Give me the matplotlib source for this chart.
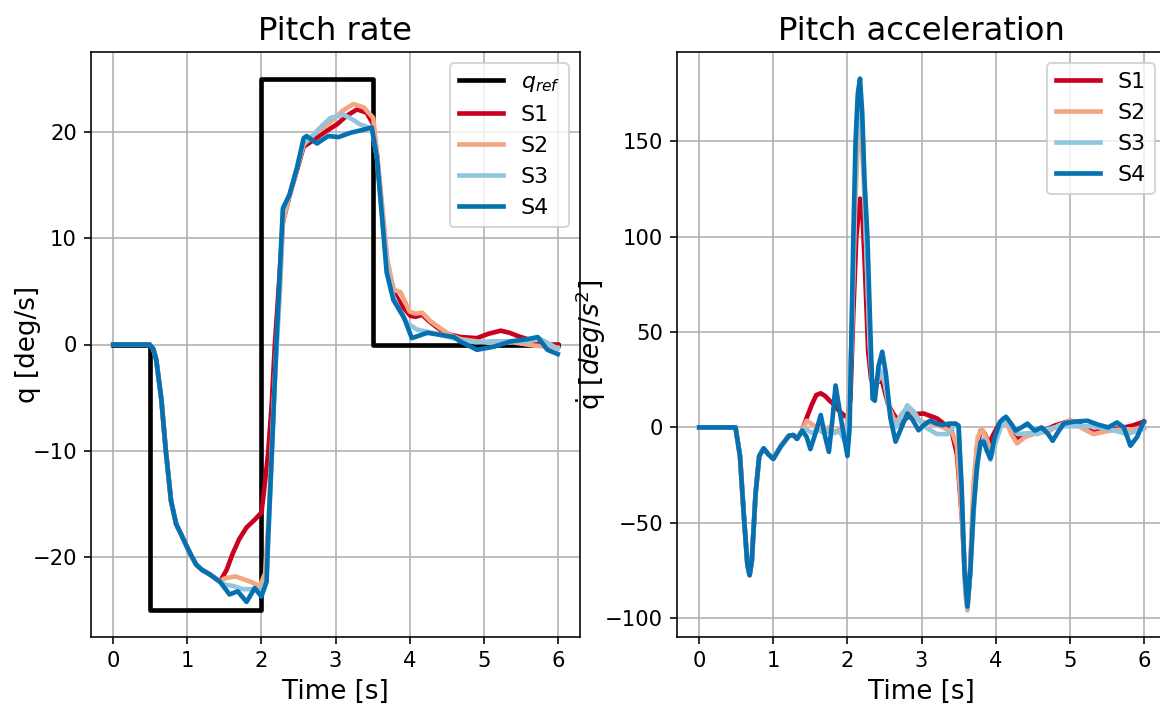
import matplotlib
matplotlib.use('Agg')
import matplotlib.pyplot as plt

# colours for the four runs (RdBu)
c1, c2, c3, c4 = '#ca0020', '#f4a582', '#92c5de', '#0571b0'

# reference pitch rate (step input)
t_ref = [0, 0.5, 2.0, 3.5, 6.0]
q_ref = [0, -25, 25, 0, 0]

# common beginning of all runs (pitch rate)
t_start = [0, 0.49, 0.54, 0.58, 0.65, 0.71, 0.78, 0.85, 0.92, 0.98, 1.05, 1.12, 1.20, 1.30, 1.44]
q_start = [0, 0, -0.4, -1.4, -5.2, -10, -14.7, -16.9, -17.9, -18.8, -19.8, -20.7, -21.2, -21.6, -22.3]

# pitch rate, S1
t_q1 = [1.53, 1.61, 1.70, 1.80, 1.92, 2.00, 2.02, 2.09, 2.14, 2.18, 2.24, 2.29, 2.38, 2.48,
        2.57, 2.70, 2.84, 3.02, 3.15, 3.29, 3.42, 3.51, 3.56, 3.63, 3.70, 3.79, 3.90, 4.01,
        4.08, 4.17, 4.26, 4.37, 4.50, 4.69, 4.91, 5.06, 5.23, 5.35, 5.46, 5.68, 5.86, 6.0]
q_1 = [-21.2, -19.7, -18.3, -17.2, -16.4, -15.8, -14.7, -10.3, -5.5, -0.2, 6.0, 11.5, 14.0, 16.4,
       18.6, 19.2, 19.9, 20.7, 21.5, 22.1, 21.8, 20.7, 17.8, 12.5, 7.5, 4.9, 3.6, 2.7,
       2.6, 2.8, 2.2, 1.6, 1.0, 0.7, 0.6, 1.0, 1.3, 1.1, 0.8, 0.3, 0.0, 0.0]

# pitch rate, S2
t_q2 = [1.50, 1.57, 1.65, 1.73, 1.85, 1.98, 2.05, 2.10, 2.15, 2.20, 2.25, 2.29, 2.38, 2.48,
        2.57, 2.70, 2.84, 2.98, 3.10, 3.24, 3.38, 3.51, 3.56, 3.63, 3.70, 3.78, 3.88, 4.00,
        4.08, 4.17, 4.28, 4.42, 4.55, 4.69, 4.90, 5.14, 5.40, 5.68, 5.85, 6.0]
q_2 = [-22.0, -21.9, -21.8, -22.0, -22.3, -22.7, -21.5, -16, -8, -0.5, 5, 11.5, 14.0, 16.6,
       18.8, 19.7, 20.4, 21.2, 22.0, 22.6, 22.3, 21.3, 18, 13, 8, 5.2, 4.9, 3.1,
       2.9, 3.0, 2.2, 1.5, 0.9, 0.5, 0.3, 0.1, 0.2, -0.1, -0.2, -0.3]

# pitch rate, S3
t_q3 = [1.52, 1.62, 1.75, 1.90, 2.00, 2.07, 2.12, 2.17, 2.22, 2.26, 2.29, 2.38, 2.48, 2.57,
        2.66, 2.78, 2.93, 3.11, 3.22, 3.33, 3.49, 3.56, 3.63, 3.70, 3.78, 3.88, 3.97, 4.10,
        4.24, 4.37, 4.69, 4.90, 5.14, 5.40, 5.59, 5.77, 5.90, 6.0]
q_3 = [-22.6, -22.7, -23.0, -23.0, -23.2, -22.0, -14, -5, 1.5, 7, 12.5, 14.1, 16.6, 19.0,
       19.4, 20.3, 21.3, 21.6, 21.2, 20.7, 20.3, 17.5, 12, 7, 4.5, 3.0, 2.0, 1.4,
       1.2, 1.0, 0.4, 0.2, 0.3, 0.3, 0.3, 0.5, 0.0, -0.4]

# pitch rate, S4
t_q4 = [1.57, 1.68, 1.80, 1.91, 2.00, 2.07, 2.09, 2.14, 2.20, 2.25, 2.29, 2.38, 2.48, 2.57,
        2.61, 2.75, 2.90, 3.04, 3.20, 3.38, 3.49, 3.56, 3.63, 3.69, 3.78, 3.92, 4.03, 4.24,
        4.42, 4.60, 4.68, 4.91, 5.14, 5.37, 5.59, 5.73, 5.86, 6.0]
q_4 = [-23.5, -23.2, -24.2, -22.9, -23.7, -22.3, -18.2, -10.3, -0.2, 7.0, 12.8, 14.1, 16.6, 19.4,
       19.6, 18.9, 19.6, 19.5, 19.9, 20.2, 20.4, 17.5, 11.8, 6.8, 4.2, 2.6, 0.6, 1.1,
       0.9, 0.7, 0.3, -0.5, -0.2, 0.3, 0.5, 0.7, -0.5, -0.9]

# common beginning of all runs (pitch acceleration)
t_a_start = [0, 0.49, 0.55, 0.60, 0.65, 0.68, 0.71, 0.76, 0.81, 0.87, 0.93, 1.00, 1.10, 1.21,
             1.27, 1.32, 1.39]
a_start = [0, 0, -15, -45, -72, -77.5, -70, -35, -15, -11, -14, -16.5, -10, -4.4,
           -4, -6, -1.7]

# pitch acceleration, S1
t_a1 = [1.45, 1.52, 1.58, 1.64, 1.70, 1.76, 1.82, 1.88, 1.95, 2.00, 2.04, 2.08, 2.12, 2.17,
        2.20, 2.24, 2.28, 2.32, 2.36, 2.42, 2.47, 2.55, 2.63, 2.72, 2.80, 2.90, 3.03, 3.21,
        3.40, 3.48, 3.55, 3.60, 3.62, 3.65, 3.70, 3.75, 3.80, 3.85, 3.91, 3.98, 4.05, 4.11,
        4.20, 4.29, 4.40, 4.60, 4.80, 5.01, 5.15, 5.32, 5.50, 5.68, 5.85, 6.0]
a_1 = [5, 12, 17, 17.9, 16.5, 14, 12, 9, 6.5, 5, 15, 60, 100, 120,
       115, 80, 40, 25, 24, 24, 24, 12, 6.5, 2, 5, 7, 7.3, 4.7,
       -1, -14.5, -50, -88, -93, -80, -40, -10, -1.7, -3, -8.4, -3, 2, 4.7,
       0, -6, -4, -2.5, 1, 3.5, 1, -2.5, -1.5, -0.5, 1, 3]

# pitch acceleration, S2
t_a2 = [1.45, 1.51, 1.58, 1.64, 1.69, 1.75, 1.80, 1.86, 1.92, 1.97, 2.02, 2.06, 2.10, 2.14,
        2.18, 2.22, 2.26, 2.30, 2.34, 2.38, 2.45, 2.50, 2.57, 2.65, 2.75, 2.82, 2.90, 3.00,
        3.15, 3.30, 3.42, 3.48, 3.55, 3.60, 3.62, 3.65, 3.70, 3.76, 3.82, 3.88, 3.94, 4.00,
        4.08, 4.14, 4.22, 4.29, 4.40, 4.55, 4.70, 4.85, 5.01, 5.15, 5.32, 5.50, 5.70, 5.85, 6.0]
a_2 = [3.5, 2, 0, -1, -1, 0, -2, -2, 0, -5, 10, 50, 110, 150,
       158, 130, 90, 45, 20, 22, 28, 24, 10, 2, 8, 10, 6, 3,
       2, 0, -3, -10, -50, -90, -96, -80, -30, -5, -1, -6, -14, -6,
       2, 3, -4, -8.4, -5, -3, -2.5, 1, 3.5, 0, -3.5, -2, -1, -1, 0]

# pitch acceleration, S3
t_a3 = [1.45, 1.52, 1.60, 1.68, 1.75, 1.82, 1.90, 1.97, 2.02, 2.06, 2.10, 2.14, 2.17, 2.21,
        2.25, 2.30, 2.34, 2.38, 2.44, 2.50, 2.57, 2.65, 2.73, 2.81, 2.90, 3.00, 3.10, 3.21,
        3.35, 3.46, 3.50, 3.55, 3.59, 3.62, 3.66, 3.72, 3.78, 3.84, 3.93, 4.00, 4.07, 4.14,
        4.22, 4.30, 4.45, 4.57, 4.70, 4.86, 5.10, 5.31, 5.55, 5.77, 5.90, 6.0]
a_3 = [-1, -3, -1, -3, -2, -3, -2, -8, 5, 50, 120, 165, 175, 150,
       100, 45, 18, 20, 30, 25, 8, 0, 6, 11.6, 8, 2, -1, -3.5,
       -3.5, 2, 0, -40, -85, -95, -75, -35, -10, -6, -17, -8, 0, 4,
       0, -3.5, -3, -3.5, -1, 0.6, 0.6, 0.6, -1, -3.5, -2, -0.6]

# pitch acceleration, S4
t_a4 = [1.45, 1.50, 1.57, 1.64, 1.70, 1.75, 1.80, 1.84, 1.92, 2.00, 2.03, 2.06, 2.08, 2.11,
        2.14, 2.17, 2.20, 2.23, 2.27, 2.31, 2.34, 2.37, 2.42, 2.47, 2.52, 2.58, 2.65, 2.73,
        2.81, 2.88, 2.96, 3.04, 3.12, 3.20, 3.28, 3.37, 3.46, 3.50, 3.54, 3.58, 3.62, 3.66,
        3.70, 3.75, 3.80, 3.84, 3.88, 3.93, 3.99, 4.06, 4.14, 4.21, 4.27, 4.35, 4.43, 4.48,
        4.53, 4.62, 4.70, 4.77, 4.85, 4.92, 5.05, 5.24, 5.38, 5.52, 5.64, 5.73, 5.82, 5.91, 6.0]
a_4 = [-5, -11.4, -3, 6.5, -5, -12.8, 5, 22, 3, -15, 0, 60, 100, 150,
       175, 183, 165, 130, 100, 50, 15, 14, 32, 39.7, 28, 5, -7.5, 0,
       7.3, 4, -1.5, 1.5, 3.6, 2, 1.2, 2, 2, 1, -30, -75, -94, -75,
       -44, -20, -7.5, -7.5, -12, -16.3, -5, 3, 5.6, 2, -1.7, 0, 2, 0,
       -1.7, 0, -3, -7, -2, 2, 3, 3.5, 1.5, 0, 2.6, 0, -9.6, -5, 3]

fig = plt.figure(figsize=(8, 722 / 145), dpi=145)
ax1 = fig.add_axes([91 / 1160, 85 / 722, 489 / 1160, 585 / 722])
ax2 = fig.add_axes([677 / 1160, 85 / 722, 489 / 1160, 585 / 722])

lw = 2.3
ax1.plot(t_ref, q_ref, color='black', lw=lw, drawstyle='steps-post', label=r'$q_{ref}$')
ax1.plot(t_start + t_q1, q_start + q_1, color=c1, lw=lw, label='S1')
ax1.plot(t_start + t_q2, q_start + q_2, color=c2, lw=lw, label='S2')
ax1.plot(t_start + t_q3, q_start + q_3, color=c3, lw=lw, label='S3')
ax1.plot(t_start + t_q4, q_start + q_4, color=c4, lw=lw, label='S4')
ax1.set_title('Pitch rate', fontsize=16)
ax1.set_xlabel('Time [s]', fontsize=13)
ax1.set_ylabel('q [deg/s]', fontsize=13)
ax1.yaxis.set_label_coords(-0.102, 0.5)
ax1.grid(True)
ax1.legend(loc='upper right', fontsize=11)

ax2.plot(t_a_start + t_a1, a_start + a_1, color=c1, lw=lw, label='S1')
ax2.plot(t_a_start + t_a2, a_start + a_2, color=c2, lw=lw, label='S2')
ax2.plot(t_a_start + t_a3, a_start + a_3, color=c3, lw=lw, label='S3')
ax2.plot(t_a_start + t_a4, a_start + a_4, color=c4, lw=lw, label='S4')
ax2.set_title('Pitch acceleration', fontsize=16)
ax2.set_xlabel('Time [s]', fontsize=13)
ax2.set_ylabel(r'$\dot{\mathrm{q}}$ [$deg/s^2$]', fontsize=13)
ax2.yaxis.set_label_coords(-0.141, 0.5)
ax2.grid(True)
ax2.legend(loc='upper right', fontsize=11)

for ax in (ax1, ax2):
    ax.tick_params(labelsize=10.5)

fig.savefig('out.png', dpi=145)
